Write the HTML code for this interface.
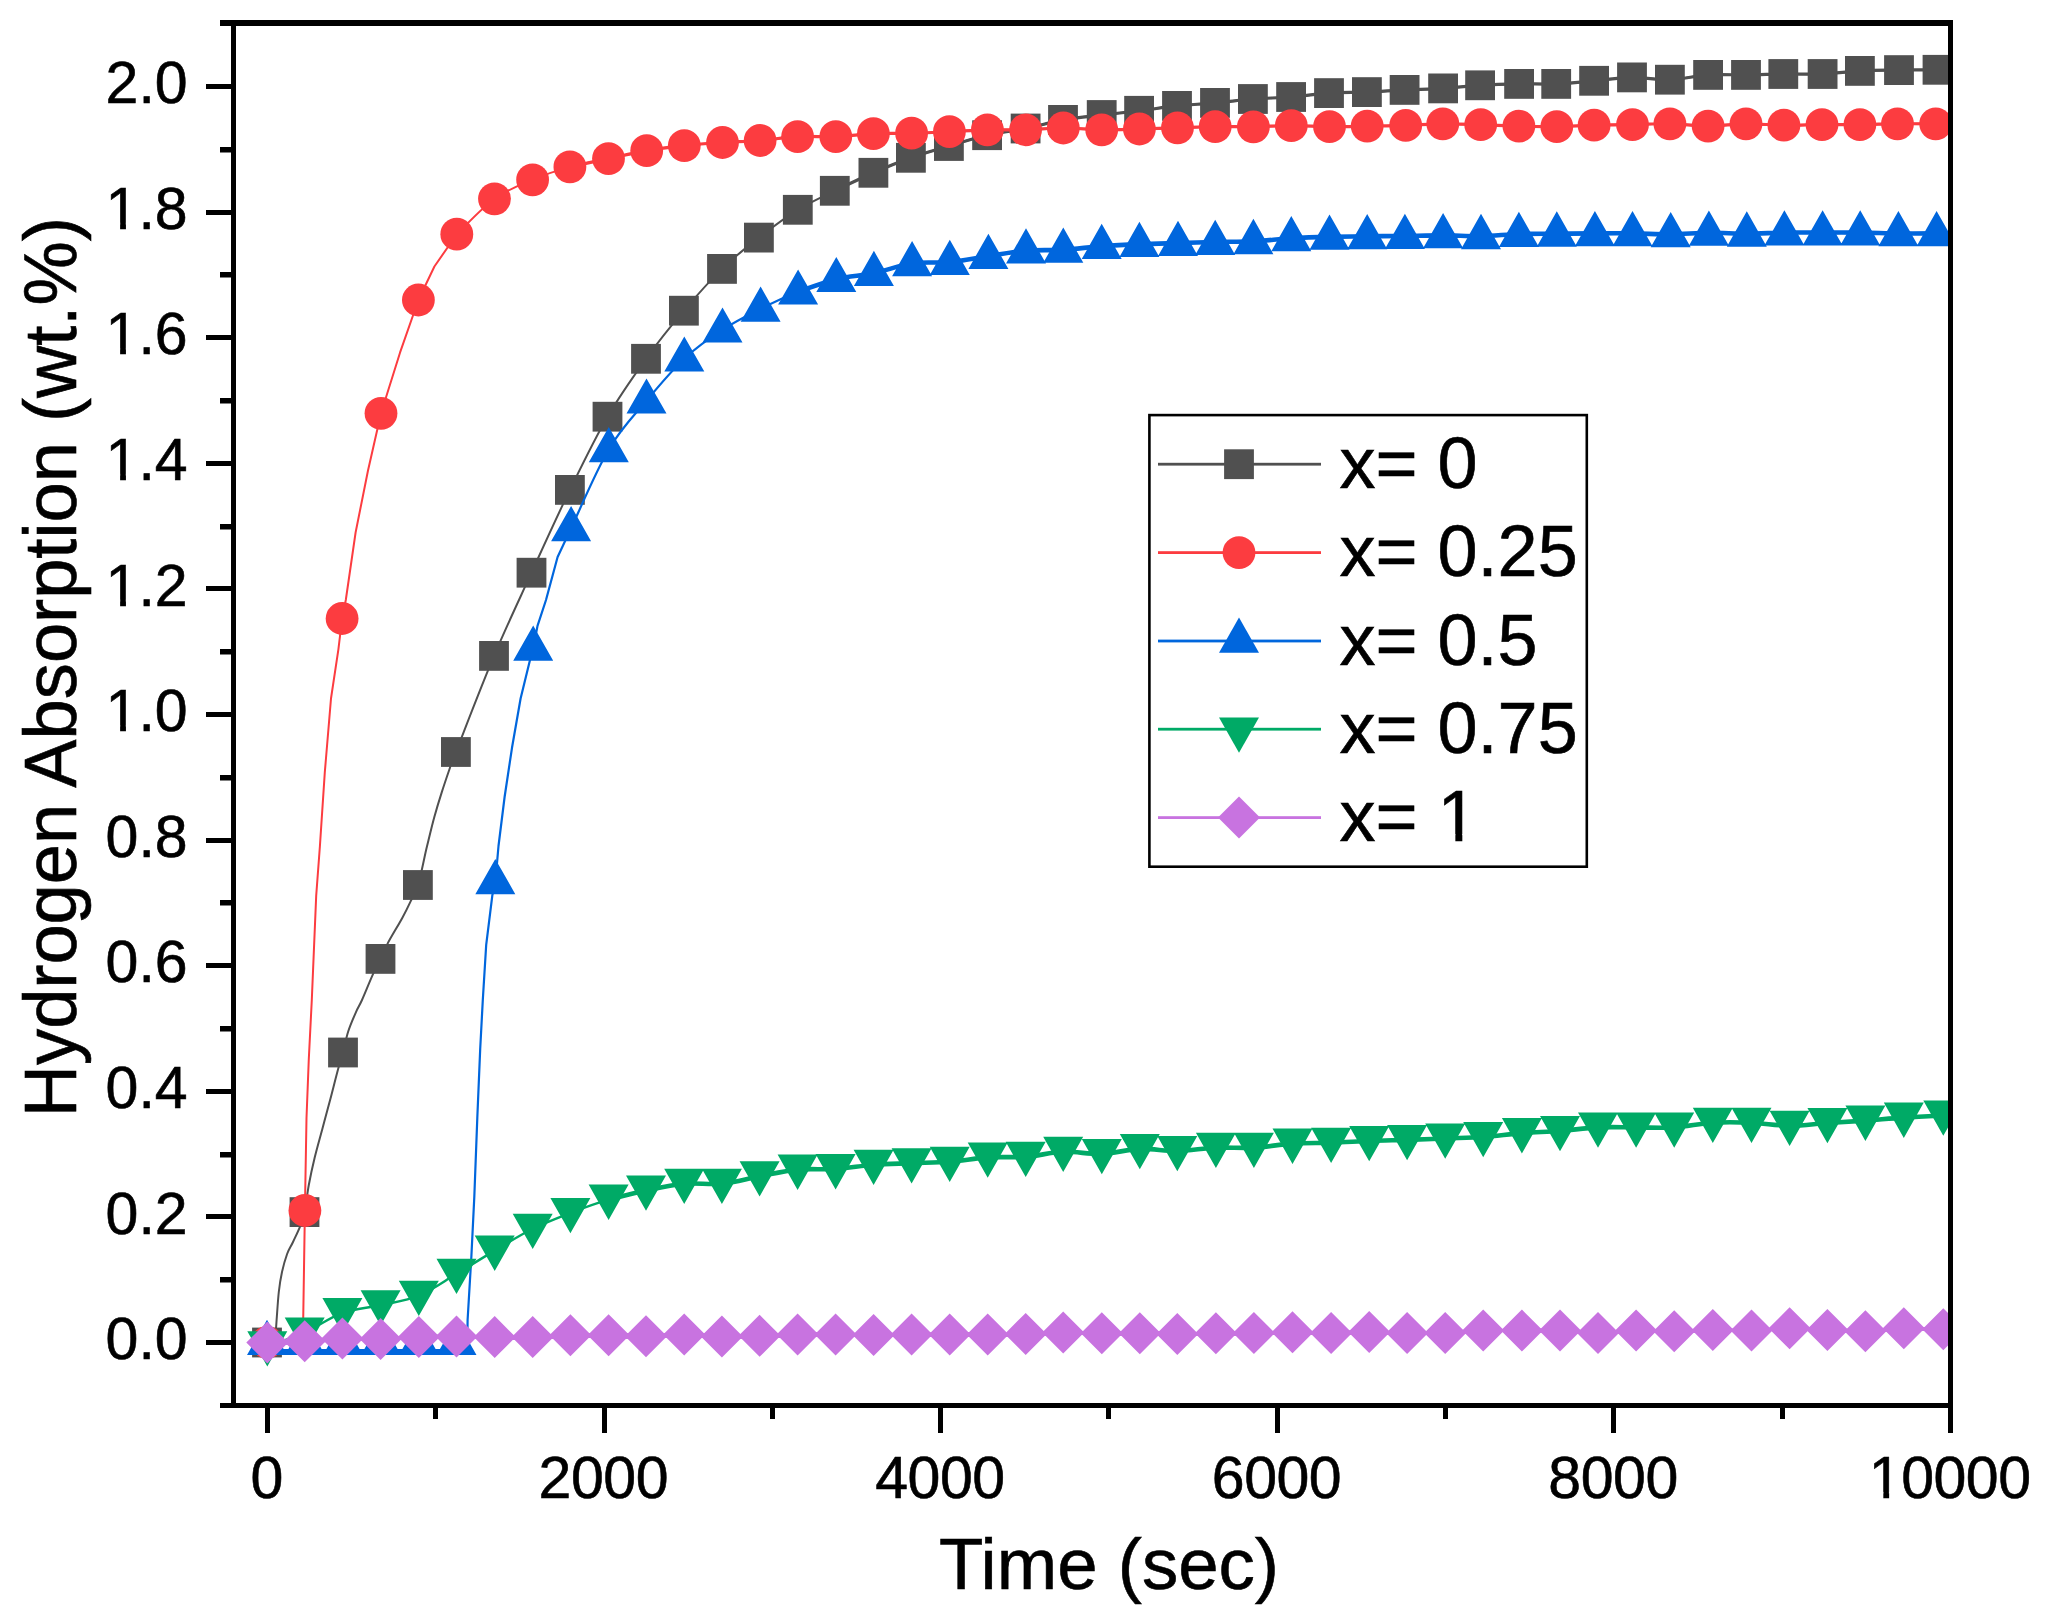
<!DOCTYPE html>
<html lang="en">
<head>
<meta charset="utf-8">
<title>Hydrogen Absorption vs Time</title>
<style>
html,body{margin:0;padding:0;background:#fff;}
body{width:2051px;height:1624px;overflow:hidden;}
svg{display:block;}
text{font-family:"Liberation Sans",Arial,sans-serif;font-size:59px;fill:#000;stroke:#000;stroke-width:0.6px;}
text.big{font-size:72px;}
text.ttl{font-size:72.6px;}
text.ytl{font-size:72.3px;}
text.xl{letter-spacing:-0.45px;}
.ln{fill:none;stroke-linejoin:round;stroke-linecap:butt;}
</style>
</head>
<body>
<svg width="2051" height="1624" viewBox="0 0 2051 1624">
<rect x="0" y="0" width="2051" height="1624" fill="#fff"/>
<defs><clipPath id="plot"><rect x="236" y="26" width="1712" height="1377"/></clipPath></defs>
<g clip-path="url(#plot)">
<g fill="#505050"><path class="ln" stroke="#505050" stroke-width="2" d="M267 1342.5L274.6 1342.3L275.8 1332L276.6 1320C277 1315.3 277.9 1300 278.8 1292C279.7 1284 280.6 1278.3 282 1272C283.4 1265.7 285.3 1259 287.1 1254C288.9 1249 290.9 1246.6 293 1242C295.1 1237.4 298.1 1231.6 300 1226.6C301.9 1221.6 303 1219 304.5 1212.1C306 1205.2 307.1 1194.1 308.8 1185C310.5 1175.9 312.4 1167.1 314.7 1157.6C317 1148.1 320 1137.8 322.6 1128C325.2 1118.2 327.9 1108.5 330.5 1098.5C333.1 1088.5 336.3 1075.7 338.4 1068C340.5 1060.3 341.4 1058.6 343 1052.5C344.6 1046.4 346 1038.3 348.2 1031.5C350.4 1024.7 353.8 1017 356.1 1011.8C358.4 1006.5 359.2 1006.2 362 1000C364.8 993.8 369.8 981.2 372.9 974.4C376 967.5 378.1 964 380.5 958.9C382.9 953.8 384 950.5 387.6 943.6C391.2 936.7 398.5 924.9 402.4 917.7C406.3 910.5 408.4 906 411 900.5C413.6 895 416 890.3 417.9 885C419.8 879.7 420.6 875 422.1 868.5C423.6 862 424.9 854.9 427 846.3C429.1 837.7 431.9 825.7 434.4 816.7C436.9 807.7 439.3 799.9 441.8 792.1C444.3 784.3 446.9 776.7 449.2 770C451.5 763.3 448.4 771 455.9 752C463.4 733 481.4 685.8 494 655.9C506.6 626 518.9 600.4 531.5 572.7C544.1 545 557.2 515.9 569.9 489.9C582.6 463.9 594.8 438.5 607.5 416.7C620.2 394.9 633.3 376.5 646 358.8C658.7 341.1 671.2 325.7 683.9 310.7C696.6 295.7 709.5 281.1 722 268.9C734.5 256.7 746.3 247.4 758.9 237.6C771.5 227.8 785.1 217.6 797.8 209.8C810.4 202 822.2 197 834.8 190.8C847.4 184.6 860.7 178.3 873.4 172.8C886.1 167.3 898.3 162.3 910.9 157.8C923.5 153.3 936.2 149.8 948.9 146C961.6 142.2 974.3 138.1 987.1 135.2C999.9 132.3 1012.9 131.1 1025.6 128.5C1038.2 126 1050.3 122.2 1063 119.9C1075.7 117.7 1089 116.5 1101.7 115C1114.4 113.5 1126.5 112.3 1139.1 110.8C1151.6 109.3 1164.3 107.2 1177 105.9C1189.7 104.6 1202.3 104.1 1215 102.9C1227.7 101.8 1240.2 100 1252.9 99C1265.6 98 1278.4 98 1291.1 97C1303.8 96 1316.4 93.9 1329 93.1C1341.6 92.3 1354.3 92.6 1366.9 92.1C1379.5 91.6 1391.9 90.5 1404.6 89.9C1417.3 89.3 1430.5 89.2 1443.1 88.4C1455.7 87.6 1467.4 86 1480.1 85.3C1492.8 84.5 1506.4 84.1 1519.1 83.9C1531.8 83.7 1543.7 84.4 1556.2 83.9C1568.7 83.4 1581.5 81.9 1594.1 80.8C1606.7 79.7 1619.4 77.6 1632 77.4C1644.6 77.2 1657.2 80.1 1669.9 79.7C1682.6 79.3 1695.4 75.7 1708.1 74.9C1720.8 74.1 1733.5 75.1 1746 74.9C1758.5 74.8 1770.5 74.2 1783.3 74C1796.1 73.8 1809.8 74.5 1822.6 74C1835.4 73.5 1847.2 71.6 1859.9 70.9C1872.6 70.2 1886.1 70.3 1899 70.1C1911.9 69.9 1931.1 69.8 1937.5 69.8"/><path class="ln" stroke="#505050" stroke-width="3.2" d="M834.8 190.8C841.2 187.8 860.7 178.3 873.4 172.8C886.1 167.3 898.3 162.3 910.9 157.8C923.5 153.3 936.2 149.8 948.9 146C961.6 142.2 974.3 138.1 987.1 135.2C999.9 132.3 1012.9 131.1 1025.6 128.5C1038.2 126 1050.3 122.2 1063 119.9C1075.7 117.7 1089 116.5 1101.7 115C1114.4 113.5 1126.5 112.3 1139.1 110.8C1151.6 109.3 1164.3 107.2 1177 105.9C1189.7 104.6 1202.3 104.1 1215 102.9C1227.7 101.8 1240.2 100 1252.9 99C1265.6 98 1278.4 98 1291.1 97C1303.8 96 1316.4 93.9 1329 93.1C1341.6 92.3 1354.3 92.6 1366.9 92.1C1379.5 91.6 1391.9 90.5 1404.6 89.9C1417.3 89.3 1430.5 89.2 1443.1 88.4C1455.7 87.6 1467.4 86 1480.1 85.3C1492.8 84.5 1506.4 84.1 1519.1 83.9C1531.8 83.7 1543.7 84.4 1556.2 83.9C1568.7 83.4 1581.5 81.9 1594.1 80.8C1606.7 79.7 1619.4 77.6 1632 77.4C1644.6 77.2 1657.2 80.1 1669.9 79.7C1682.6 79.3 1695.4 75.7 1708.1 74.9C1720.8 74.1 1733.5 75.1 1746 74.9C1758.5 74.8 1770.5 74.2 1783.3 74C1796.1 73.8 1809.8 74.5 1822.6 74C1835.4 73.5 1847.2 71.6 1859.9 70.9C1872.6 70.2 1886.1 70.3 1899 70.1C1911.9 69.9 1931.1 69.8 1937.5 69.8"/><rect x="252.1" y="1327.6" width="29.8" height="29.8"/><rect x="289.6" y="1197.2" width="29.8" height="29.8"/><rect x="328.1" y="1037.6" width="29.8" height="29.8"/><rect x="365.6" y="944" width="29.8" height="29.8"/><rect x="403" y="870.1" width="29.8" height="29.8"/><rect x="441" y="737.1" width="29.8" height="29.8"/><rect x="479.1" y="641" width="29.8" height="29.8"/><rect x="516.6" y="557.8" width="29.8" height="29.8"/><rect x="555" y="475" width="29.8" height="29.8"/><rect x="592.6" y="401.8" width="29.8" height="29.8"/><rect x="631.1" y="343.9" width="29.8" height="29.8"/><rect x="669" y="295.8" width="29.8" height="29.8"/><rect x="707.1" y="254" width="29.8" height="29.8"/><rect x="744" y="222.7" width="29.8" height="29.8"/><rect x="782.9" y="194.9" width="29.8" height="29.8"/><rect x="819.9" y="175.9" width="29.8" height="29.8"/><rect x="858.5" y="157.9" width="29.8" height="29.8"/><rect x="896" y="142.9" width="29.8" height="29.8"/><rect x="934" y="131.1" width="29.8" height="29.8"/><rect x="972.2" y="120.3" width="29.8" height="29.8"/><rect x="1010.7" y="113.6" width="29.8" height="29.8"/><rect x="1048.1" y="105" width="29.8" height="29.8"/><rect x="1086.8" y="100.1" width="29.8" height="29.8"/><rect x="1124.2" y="95.9" width="29.8" height="29.8"/><rect x="1162.1" y="91" width="29.8" height="29.8"/><rect x="1200.1" y="88" width="29.8" height="29.8"/><rect x="1238" y="84.1" width="29.8" height="29.8"/><rect x="1276.2" y="82.1" width="29.8" height="29.8"/><rect x="1314.1" y="78.2" width="29.8" height="29.8"/><rect x="1352" y="77.2" width="29.8" height="29.8"/><rect x="1389.7" y="75" width="29.8" height="29.8"/><rect x="1428.2" y="73.5" width="29.8" height="29.8"/><rect x="1465.2" y="70.4" width="29.8" height="29.8"/><rect x="1504.2" y="69" width="29.8" height="29.8"/><rect x="1541.3" y="69" width="29.8" height="29.8"/><rect x="1579.2" y="65.9" width="29.8" height="29.8"/><rect x="1617.1" y="62.5" width="29.8" height="29.8"/><rect x="1655" y="64.8" width="29.8" height="29.8"/><rect x="1693.2" y="60" width="29.8" height="29.8"/><rect x="1731.1" y="60" width="29.8" height="29.8"/><rect x="1768.4" y="59.1" width="29.8" height="29.8"/><rect x="1807.7" y="59.1" width="29.8" height="29.8"/><rect x="1845" y="56" width="29.8" height="29.8"/><rect x="1884.1" y="55.2" width="29.8" height="29.8"/><rect x="1922.6" y="54.9" width="29.8" height="29.8"/></g>
<g fill="#fc3c40"><path class="ln" stroke="#fc3c40" stroke-width="2" d="M267 1342.5L302.9 1342.5L303.2 1320L304.9 1210.5L306.5 1118L308.8 1059L311.8 1000L316.2 895.6L319.9 846.3L324.8 772.4L331 698.5L338.4 649.3L342.1 618.5L345.8 600L355.6 532.5L367.9 471L381 413.3L400 352.7L418.4 300L434.4 266.5L456.8 234.2C463.1 228.3 481.9 207.9 494.5 198.8C507.1 189.7 520 185.1 532.6 179.8C545.2 174.5 557.2 170.4 569.9 166.9C582.5 163.4 595.7 161.3 608.5 158.6C621.3 155.9 634.1 152.9 646.7 150.7C659.3 148.5 671.7 147 684.3 145.6C696.9 144.2 709.9 143.3 722.5 142.5C735.1 141.7 747.6 141.5 760.1 140.5C772.6 139.5 785 137.2 797.6 136.6C810.2 135.9 823.2 137.1 835.8 136.6C848.4 136.1 860.8 134.2 873.4 133.6C886 133 898.9 133.5 911.6 133.2C924.3 132.9 936.8 132.3 949.4 131.7C962 131.1 974.7 130.1 987.4 129.8C1000.1 129.5 1012.9 130.1 1025.6 129.8C1038.2 129.5 1050.6 128 1063.3 128C1076 128 1089 129.6 1101.7 129.8C1114.4 130 1126.8 129.3 1139.4 129C1152 128.7 1164.9 128.2 1177.5 127.8C1190.1 127.4 1202.5 126.8 1215.2 126.6C1227.9 126.4 1240.7 127 1253.4 126.8C1266.1 126.6 1278.6 125.6 1291.3 125.6C1304 125.6 1316.8 126.5 1329.5 126.6C1342.2 126.7 1354.5 126.3 1367.2 126.1C1379.9 125.9 1393.1 125.8 1405.7 125.4C1418.3 125 1430.3 123.9 1442.8 123.8C1455.3 123.7 1468 124.2 1480.7 124.6C1493.4 125 1506.2 125.8 1518.9 126.1C1531.6 126.4 1544.3 126.8 1556.8 126.6C1569.3 126.4 1581.5 125.5 1594.1 125.2C1606.7 124.9 1619.9 124.8 1632.5 124.6C1645.1 124.4 1657.3 123.5 1669.9 123.8C1682.5 124 1695.4 126.1 1708.1 126.1C1720.8 126.1 1733.4 123.9 1746 123.8C1758.6 123.7 1771.2 125.1 1783.9 125.2C1796.6 125.3 1809.3 124.7 1822 124.6C1834.7 124.5 1847.3 124.7 1859.9 124.6C1872.5 124.5 1884.9 123.9 1897.5 123.8C1910.1 123.7 1929.3 123.8 1935.7 123.8"/><path class="ln" stroke="#fc3c40" stroke-width="3.2" d="M569.9 166.9C576.3 165.5 595.7 161.3 608.5 158.6C621.3 155.9 634.1 152.9 646.7 150.7C659.3 148.5 671.7 147 684.3 145.6C696.9 144.2 709.9 143.3 722.5 142.5C735.1 141.7 747.6 141.5 760.1 140.5C772.6 139.5 785 137.2 797.6 136.6C810.2 135.9 823.2 137.1 835.8 136.6C848.4 136.1 860.8 134.2 873.4 133.6C886 133 898.9 133.5 911.6 133.2C924.3 132.9 936.8 132.3 949.4 131.7C962 131.1 974.7 130.1 987.4 129.8C1000.1 129.5 1012.9 130.1 1025.6 129.8C1038.2 129.5 1050.6 128 1063.3 128C1076 128 1089 129.6 1101.7 129.8C1114.4 130 1126.8 129.3 1139.4 129C1152 128.7 1164.9 128.2 1177.5 127.8C1190.1 127.4 1202.5 126.8 1215.2 126.6C1227.9 126.4 1240.7 127 1253.4 126.8C1266.1 126.6 1278.6 125.6 1291.3 125.6C1304 125.6 1316.8 126.5 1329.5 126.6C1342.2 126.7 1354.5 126.3 1367.2 126.1C1379.9 125.9 1393.1 125.8 1405.7 125.4C1418.3 125 1430.3 123.9 1442.8 123.8C1455.3 123.7 1468 124.2 1480.7 124.6C1493.4 125 1506.2 125.8 1518.9 126.1C1531.6 126.4 1544.3 126.8 1556.8 126.6C1569.3 126.4 1581.5 125.5 1594.1 125.2C1606.7 124.9 1619.9 124.8 1632.5 124.6C1645.1 124.4 1657.3 123.5 1669.9 123.8C1682.5 124 1695.4 126.1 1708.1 126.1C1720.8 126.1 1733.4 123.9 1746 123.8C1758.6 123.7 1771.2 125.1 1783.9 125.2C1796.6 125.3 1809.3 124.7 1822 124.6C1834.7 124.5 1847.3 124.7 1859.9 124.6C1872.5 124.5 1884.9 123.9 1897.5 123.8C1910.1 123.7 1929.3 123.8 1935.7 123.8"/><circle cx="267" cy="1342.5" r="16.4"/><circle cx="304.9" cy="1210.5" r="16.4"/><circle cx="342.1" cy="618.5" r="16.4"/><circle cx="381" cy="413.3" r="16.4"/><circle cx="418.4" cy="300" r="16.4"/><circle cx="456.8" cy="234.2" r="16.4"/><circle cx="494.5" cy="198.8" r="16.4"/><circle cx="532.6" cy="179.8" r="16.4"/><circle cx="569.9" cy="166.9" r="16.4"/><circle cx="608.5" cy="158.6" r="16.4"/><circle cx="646.7" cy="150.7" r="16.4"/><circle cx="684.3" cy="145.6" r="16.4"/><circle cx="722.5" cy="142.5" r="16.4"/><circle cx="760.1" cy="140.5" r="16.4"/><circle cx="797.6" cy="136.6" r="16.4"/><circle cx="835.8" cy="136.6" r="16.4"/><circle cx="873.4" cy="133.6" r="16.4"/><circle cx="911.6" cy="133.2" r="16.4"/><circle cx="949.4" cy="131.7" r="16.4"/><circle cx="987.4" cy="129.8" r="16.4"/><circle cx="1025.6" cy="129.8" r="16.4"/><circle cx="1063.3" cy="128" r="16.4"/><circle cx="1101.7" cy="129.8" r="16.4"/><circle cx="1139.4" cy="129" r="16.4"/><circle cx="1177.5" cy="127.8" r="16.4"/><circle cx="1215.2" cy="126.6" r="16.4"/><circle cx="1253.4" cy="126.8" r="16.4"/><circle cx="1291.3" cy="125.6" r="16.4"/><circle cx="1329.5" cy="126.6" r="16.4"/><circle cx="1367.2" cy="126.1" r="16.4"/><circle cx="1405.7" cy="125.4" r="16.4"/><circle cx="1442.8" cy="123.8" r="16.4"/><circle cx="1480.7" cy="124.6" r="16.4"/><circle cx="1518.9" cy="126.1" r="16.4"/><circle cx="1556.8" cy="126.6" r="16.4"/><circle cx="1594.1" cy="125.2" r="16.4"/><circle cx="1632.5" cy="124.6" r="16.4"/><circle cx="1669.9" cy="123.8" r="16.4"/><circle cx="1708.1" cy="126.1" r="16.4"/><circle cx="1746" cy="123.8" r="16.4"/><circle cx="1783.9" cy="125.2" r="16.4"/><circle cx="1822" cy="124.6" r="16.4"/><circle cx="1859.9" cy="124.6" r="16.4"/><circle cx="1897.5" cy="123.8" r="16.4"/><circle cx="1935.7" cy="123.8" r="16.4"/></g>
<g fill="#0066dd"><path class="ln" stroke="#0066dd" stroke-width="4" d="M267 1351L468.6 1351"/><path class="ln" stroke="#0066dd" stroke-width="2.2" d="M467.2 1351L467.6 1320L471.4 1256L474.3 1197L477.3 1118L480.2 1049L482.8 1000L486.2 944.8L492.3 895.6L495.3 882.4L498.5 846L504.6 797L512 747.8L520.6 698.5L530 660L533.2 648.9L537.5 625.9L546 600L557.6 557L571.1 528.3C577.4 515.1 596.2 470.6 608.8 449.3C621.4 428 633.9 415.8 646.5 400.7C659.1 385.6 671.6 370.5 684.3 358.7C697 346.9 709.8 338 722.5 329.7C735.2 321.4 748 315.1 760.6 308.8C773.2 302.5 785.5 296.6 798.1 291.7C810.7 286.8 823.7 282.3 836.3 279.2C848.9 276.1 861.3 275.8 873.9 273.2C886.5 270.6 899.5 265.2 912.1 263.3C924.8 261.4 937.1 263.3 949.8 262.1C962.5 260.9 975.7 257.9 988.4 256C1001.1 254.1 1013.5 251.6 1026 250.6C1038.5 249.6 1050.7 250.5 1063.3 249.8C1075.9 249.1 1089 247.1 1101.7 246.2C1114.4 245.2 1126.7 244.6 1139.4 244.1C1152.1 243.6 1165.4 243.4 1178 243.1C1190.6 242.8 1202.6 242.3 1215.2 242C1227.8 241.7 1240.7 241.8 1253.4 241.2C1266.1 240.6 1278.6 239 1291.3 238.3C1304 237.6 1316.8 237.2 1329.5 236.9C1342.2 236.6 1354.6 236.4 1367.2 236.3C1379.8 236.1 1392.2 236.2 1404.9 236C1417.6 235.8 1430.4 235.4 1443.1 235.4C1455.8 235.4 1468.4 236.4 1481 236.2C1493.6 236 1506.3 234.4 1518.9 234C1531.5 233.6 1544.1 233.8 1556.8 233.7C1569.5 233.6 1582.3 233.4 1594.9 233.4C1607.5 233.3 1619.9 233.2 1632.5 233.4C1645.1 233.5 1658 234.4 1670.7 234.3C1683.4 234.2 1696.2 232.9 1708.9 232.8C1721.6 232.7 1734.2 233.7 1746.8 233.7C1759.4 233.7 1771.8 232.8 1784.4 232.6C1797 232.4 1810 232.6 1822.6 232.6C1835.2 232.6 1847.6 232.5 1860.2 232.6C1872.8 232.7 1885.7 233.3 1898.4 233.4C1911.1 233.5 1930.2 233.4 1936.6 233.4"/><path class="ln" stroke="#0066dd" stroke-width="4.6" d="M798.1 291.7C804.5 289.6 823.7 282.3 836.3 279.2C848.9 276.1 861.3 275.8 873.9 273.2C886.5 270.6 899.5 265.2 912.1 263.3C924.8 261.4 937.1 263.3 949.8 262.1C962.5 260.9 975.7 257.9 988.4 256C1001.1 254.1 1013.5 251.6 1026 250.6C1038.5 249.6 1050.7 250.5 1063.3 249.8C1075.9 249.1 1089 247.1 1101.7 246.2C1114.4 245.2 1126.7 244.6 1139.4 244.1C1152.1 243.6 1165.4 243.4 1178 243.1C1190.6 242.8 1202.6 242.3 1215.2 242C1227.8 241.7 1240.7 241.8 1253.4 241.2C1266.1 240.6 1278.6 239 1291.3 238.3C1304 237.6 1316.8 237.2 1329.5 236.9C1342.2 236.6 1354.6 236.4 1367.2 236.3C1379.8 236.1 1392.2 236.2 1404.9 236C1417.6 235.8 1430.4 235.4 1443.1 235.4C1455.8 235.4 1468.4 236.4 1481 236.2C1493.6 236 1506.3 234.4 1518.9 234C1531.5 233.6 1544.1 233.8 1556.8 233.7C1569.5 233.6 1582.3 233.4 1594.9 233.4C1607.5 233.3 1619.9 233.2 1632.5 233.4C1645.1 233.5 1658 234.4 1670.7 234.3C1683.4 234.2 1696.2 232.9 1708.9 232.8C1721.6 232.7 1734.2 233.7 1746.8 233.7C1759.4 233.7 1771.8 232.8 1784.4 232.6C1797 232.4 1810 232.6 1822.6 232.6C1835.2 232.6 1847.6 232.5 1860.2 232.6C1872.8 232.7 1885.7 233.3 1898.4 233.4C1911.1 233.5 1930.2 233.4 1936.6 233.4"/><path d="M267 1319.8L287 1355.1L247 1355.1ZM305 1319.8L325 1355.1L285 1355.1ZM343 1319.8L363 1355.1L323 1355.1ZM381 1319.8L401 1355.1L361 1355.1ZM419 1319.8L439 1355.1L399 1355.1ZM456.5 1319.8L476.5 1355.1L436.5 1355.1ZM495.3 859L515.3 894.2L475.3 894.2ZM533.2 625.5L553.2 660.8L513.2 660.8ZM571.1 506L591.1 541.2L551.1 541.2ZM608.8 427L628.8 462.2L588.8 462.2ZM646.5 378.4L666.5 413.6L626.5 413.6ZM684.3 336.4L704.3 371.6L664.3 371.6ZM722.5 307.4L742.5 342.6L702.5 342.6ZM760.6 286.5L780.6 321.8L740.6 321.8ZM798.1 269.4L818.1 304.6L778.1 304.6ZM836.3 256.9L856.3 292.1L816.3 292.1ZM873.9 250.8L893.9 286.1L853.9 286.1ZM912.1 241L932.1 276.2L892.1 276.2ZM949.8 239.7L969.8 275L929.8 275ZM988.4 233.7L1008.4 268.9L968.4 268.9ZM1026 228.2L1046 263.6L1006 263.6ZM1063.3 227.4L1083.3 262.8L1043.3 262.8ZM1101.7 223.8L1121.7 259.1L1081.7 259.1ZM1139.4 221.8L1159.4 257.1L1119.4 257.1ZM1178 220.8L1198 256.1L1158 256.1ZM1215.2 219.7L1235.2 255L1195.2 255ZM1253.4 218.8L1273.4 254.2L1233.4 254.2ZM1291.3 215.9L1311.3 251.2L1271.3 251.2ZM1329.5 214.5L1349.5 249.8L1309.5 249.8ZM1367.2 213.9L1387.2 249.2L1347.2 249.2ZM1404.9 213.7L1424.9 249L1384.9 249ZM1443.1 213L1463.1 248.3L1423.1 248.3ZM1481 213.8L1501 249.2L1461 249.2ZM1518.9 211.7L1538.9 247L1498.9 247ZM1556.8 211.3L1576.8 246.7L1536.8 246.7ZM1594.9 211L1614.9 246.3L1574.9 246.3ZM1632.5 211L1652.5 246.3L1612.5 246.3ZM1670.7 211.9L1690.7 247.2L1650.7 247.2ZM1708.9 210.4L1728.9 245.8L1688.9 245.8ZM1746.8 211.3L1766.8 246.7L1726.8 246.7ZM1784.4 210.2L1804.4 245.6L1764.4 245.6ZM1822.6 210.2L1842.6 245.6L1802.6 245.6ZM1860.2 210.2L1880.2 245.6L1840.2 245.6ZM1898.4 211L1918.4 246.3L1878.4 246.3ZM1936.6 211L1956.6 246.3L1916.6 246.3Z"/></g>
<g fill="#00aa66"><path class="ln" stroke="#00aa66" stroke-width="2.4" d="M267.3 1346.2C273.5 1343.9 292.2 1338 304.7 1332.5C317.2 1327 329.8 1317.5 342.4 1312.9C355 1308.4 367.9 1308.1 380.6 1305.2C393.3 1302.3 406.2 1300.9 418.8 1295.7C431.4 1290.5 443.9 1281.3 456.5 1273.8C469.1 1266.3 482 1258.1 494.7 1250.6C507.4 1243.1 520.1 1235.1 532.7 1228.8C545.3 1222.5 557.8 1217.8 570.4 1212.9C583 1208 596 1203.3 608.6 1199.6C621.2 1195.9 633.4 1193.2 646 1190.5C658.6 1187.8 671.6 1184.8 684.2 1183.7C696.9 1182.6 709.3 1184.9 721.9 1183.7C734.5 1182.5 747 1178.7 759.6 1176.3C772.2 1173.9 784.9 1170.8 797.6 1169.6C810.3 1168.4 822.9 1169.9 835.6 1169.1C848.3 1168.3 860.9 1165.7 873.6 1164.7C886.3 1163.7 898.9 1163.7 911.6 1163.2C924.3 1162.7 937 1162.8 949.7 1161.8C962.4 1160.8 975 1158.2 987.7 1157.4C1000.4 1156.6 1013.1 1157.7 1025.7 1156.8C1038.3 1155.9 1050.5 1152.3 1063.2 1151.8C1075.9 1151.3 1089 1154.4 1101.8 1153.9C1114.6 1153.4 1127.2 1149.4 1139.8 1148.9C1152.4 1148.4 1164.6 1151.2 1177.3 1151C1190 1150.8 1203.1 1148.2 1215.9 1147.7C1228.7 1147.2 1241.1 1148.4 1253.9 1147.7C1266.7 1147 1279.6 1144.4 1292.5 1143.6C1305.4 1142.8 1318.3 1143.2 1331.1 1142.8C1343.9 1142.4 1356.5 1141.5 1369.2 1141C1381.9 1140.5 1394.4 1140.3 1407.1 1139.9C1419.8 1139.5 1432.5 1138.9 1445.2 1138.4C1457.9 1137.9 1470.4 1137.9 1483.2 1137C1496 1136.1 1509.1 1134.1 1521.9 1133.1C1534.7 1132.1 1547.3 1132 1560 1131C1572.7 1130 1585.3 1128 1598 1127.4C1610.7 1126.8 1623.4 1127.4 1636.1 1127.4C1648.8 1127.4 1661.4 1128.2 1674.2 1127.4C1687 1126.6 1699.9 1123.5 1712.8 1122.7C1725.7 1121.9 1738.7 1122.2 1751.5 1122.7C1764.3 1123.2 1776.9 1125.7 1789.6 1125.7C1802.2 1125.8 1814.8 1123.8 1827.4 1123C1840 1122.2 1852.7 1121.5 1865.4 1120.6C1878.1 1119.7 1890.8 1118.4 1903.8 1117.6C1916.8 1116.8 1936.7 1115.8 1943.3 1115.5"/><path class="ln" stroke="#00aa66" stroke-width="4.6" d="M608.6 1199.6C614.8 1198.1 633.4 1193.2 646 1190.5C658.6 1187.8 671.6 1184.8 684.2 1183.7C696.9 1182.6 709.3 1184.9 721.9 1183.7C734.5 1182.5 747 1178.7 759.6 1176.3C772.2 1173.9 784.9 1170.8 797.6 1169.6C810.3 1168.4 822.9 1169.9 835.6 1169.1C848.3 1168.3 860.9 1165.7 873.6 1164.7C886.3 1163.7 898.9 1163.7 911.6 1163.2C924.3 1162.7 937 1162.8 949.7 1161.8C962.4 1160.8 975 1158.2 987.7 1157.4C1000.4 1156.6 1013.1 1157.7 1025.7 1156.8C1038.3 1155.9 1050.5 1152.3 1063.2 1151.8C1075.9 1151.3 1089 1154.4 1101.8 1153.9C1114.6 1153.4 1127.2 1149.4 1139.8 1148.9C1152.4 1148.4 1164.6 1151.2 1177.3 1151C1190 1150.8 1203.1 1148.2 1215.9 1147.7C1228.7 1147.2 1241.1 1148.4 1253.9 1147.7C1266.7 1147 1279.6 1144.4 1292.5 1143.6C1305.4 1142.8 1318.3 1143.2 1331.1 1142.8C1343.9 1142.4 1356.5 1141.5 1369.2 1141C1381.9 1140.5 1394.4 1140.3 1407.1 1139.9C1419.8 1139.5 1432.5 1138.9 1445.2 1138.4C1457.9 1137.9 1470.4 1137.9 1483.2 1137C1496 1136.1 1509.1 1134.1 1521.9 1133.1C1534.7 1132.1 1547.3 1132 1560 1131C1572.7 1130 1585.3 1128 1598 1127.4C1610.7 1126.8 1623.4 1127.4 1636.1 1127.4C1648.8 1127.4 1661.4 1128.2 1674.2 1127.4C1687 1126.6 1699.9 1123.5 1712.8 1122.7C1725.7 1121.9 1738.7 1122.2 1751.5 1122.7C1764.3 1123.2 1776.9 1125.7 1789.6 1125.7C1802.2 1125.8 1814.8 1123.8 1827.4 1123C1840 1122.2 1852.7 1121.5 1865.4 1120.6C1878.1 1119.7 1890.8 1118.4 1903.8 1117.6C1916.8 1116.8 1936.7 1115.8 1943.3 1115.5"/><path d="M247.3 1331.2L287.3 1331.2L267.3 1366.5ZM284.7 1317.5L324.7 1317.5L304.7 1352.8ZM322.4 1297.9L362.4 1297.9L342.4 1333.2ZM360.6 1290.2L400.6 1290.2L380.6 1325.5ZM398.8 1280.7L438.8 1280.7L418.8 1316ZM436.5 1258.8L476.5 1258.8L456.5 1294.1ZM474.7 1235.6L514.7 1235.6L494.7 1270.9ZM512.7 1213.8L552.7 1213.8L532.7 1249.1ZM550.4 1197.9L590.4 1197.9L570.4 1233.2ZM588.6 1184.6L628.6 1184.6L608.6 1219.9ZM626 1175.5L666 1175.5L646 1210.8ZM664.2 1168.7L704.2 1168.7L684.2 1204ZM701.9 1168.7L741.9 1168.7L721.9 1204ZM739.6 1161.3L779.6 1161.3L759.6 1196.6ZM777.6 1154.6L817.6 1154.6L797.6 1189.9ZM815.6 1154.1L855.6 1154.1L835.6 1189.4ZM853.6 1149.7L893.6 1149.7L873.6 1185ZM891.6 1148.2L931.6 1148.2L911.6 1183.5ZM929.7 1146.8L969.7 1146.8L949.7 1182.1ZM967.7 1142.4L1007.7 1142.4L987.7 1177.7ZM1005.7 1141.8L1045.7 1141.8L1025.7 1177.1ZM1043.2 1136.8L1083.2 1136.8L1063.2 1172.1ZM1081.8 1138.9L1121.8 1138.9L1101.8 1174.2ZM1119.8 1133.9L1159.8 1133.9L1139.8 1169.2ZM1157.3 1136L1197.3 1136L1177.3 1171.3ZM1195.9 1132.7L1235.9 1132.7L1215.9 1168ZM1233.9 1132.7L1273.9 1132.7L1253.9 1168ZM1272.5 1128.6L1312.5 1128.6L1292.5 1163.9ZM1311.1 1127.8L1351.1 1127.8L1331.1 1163.1ZM1349.2 1126L1389.2 1126L1369.2 1161.3ZM1387.1 1124.9L1427.1 1124.9L1407.1 1160.2ZM1425.2 1123.4L1465.2 1123.4L1445.2 1158.7ZM1463.2 1122L1503.2 1122L1483.2 1157.3ZM1501.9 1118.1L1541.9 1118.1L1521.9 1153.4ZM1540 1116L1580 1116L1560 1151.3ZM1578 1112.4L1618 1112.4L1598 1147.7ZM1616.1 1112.4L1656.1 1112.4L1636.1 1147.7ZM1654.2 1112.4L1694.2 1112.4L1674.2 1147.7ZM1692.8 1107.7L1732.8 1107.7L1712.8 1143ZM1731.5 1107.7L1771.5 1107.7L1751.5 1143ZM1769.6 1110.7L1809.6 1110.7L1789.6 1146ZM1807.4 1108L1847.4 1108L1827.4 1143.3ZM1845.4 1105.6L1885.4 1105.6L1865.4 1140.9ZM1883.8 1102.6L1923.8 1102.6L1903.8 1137.9ZM1923.3 1100.5L1963.3 1100.5L1943.3 1135.8Z"/></g>
<g fill="#c873e0"><path class="ln" stroke="#c873e0" stroke-width="2.2" d="M267.3 1342.6C273.5 1342.4 292.2 1341.9 304.7 1341.2C317.2 1340.5 329.8 1338.9 342.4 1338.5C355 1338.1 367.9 1339.2 380.6 1339C393.3 1338.8 406.2 1337.5 418.8 1337.1C431.4 1336.7 443.9 1336.6 456.5 1336.6C469.1 1336.6 482 1337 494.7 1337.1C507.4 1337.2 520.1 1337.4 532.7 1337.1C545.3 1336.8 557.8 1335.5 570.4 1335.2C583 1334.9 596 1335 608.6 1335.2C621.2 1335.4 633.4 1336.4 646 1336.3C658.6 1336.2 671.6 1334.4 684.2 1334.4C696.9 1334.5 709.3 1336.4 721.9 1336.6C734.5 1336.8 747 1336.1 759.6 1335.8C772.2 1335.5 784.9 1334.7 797.6 1334.5C810.3 1334.3 822.9 1334.4 835.6 1334.5C848.3 1334.6 860.9 1335.1 873.6 1335.1C886.3 1335.1 898.9 1334.6 911.6 1334.5C924.3 1334.4 937 1334.5 949.7 1334.5C962.4 1334.5 975 1334.6 987.7 1334.5C1000.4 1334.4 1013.1 1334.2 1025.7 1333.9C1038.3 1333.6 1050.5 1332.6 1063.2 1332.5C1075.9 1332.4 1089 1333.2 1101.8 1333.3C1114.6 1333.4 1127.2 1333.2 1139.8 1333.3C1152.4 1333.4 1164.6 1333.9 1177.3 1333.9C1190 1333.9 1203.1 1333.5 1215.9 1333.3C1228.7 1333.1 1241.1 1333.2 1253.9 1333C1266.7 1332.8 1279.6 1332.2 1292.5 1332.2C1305.4 1332.2 1318.3 1333 1331.1 1333C1343.9 1333 1356.5 1332.1 1369.2 1332.1C1381.9 1332.1 1394.4 1332.8 1407.1 1333C1419.8 1333.2 1432.5 1333.4 1445.2 1333C1457.9 1332.6 1470.4 1331 1483.2 1330.6C1496 1330.2 1509.1 1330.6 1521.9 1330.6C1534.7 1330.6 1547.3 1330.2 1560 1330.6C1572.7 1331 1585.3 1333 1598 1333C1610.7 1333 1623.4 1330.9 1636.1 1330.6C1648.8 1330.3 1661.4 1331.3 1674.2 1331.2C1687 1331.1 1699.9 1330.1 1712.8 1330C1725.7 1329.9 1738.7 1330.9 1751.5 1330.6C1764.3 1330.3 1776.9 1328.4 1789.6 1328.3C1802.2 1328.2 1814.8 1329.5 1827.4 1330C1840 1330.5 1852.7 1331.5 1865.4 1331.2C1878.1 1330.9 1890.8 1328.6 1903.8 1328.3C1916.8 1328 1936.7 1329 1943.3 1329.2"/><path d="M267.3 1321.6L288.3 1342.6L267.3 1363.6L246.3 1342.6ZM304.7 1320.2L325.7 1341.2L304.7 1362.2L283.7 1341.2ZM342.4 1317.5L363.4 1338.5L342.4 1359.5L321.4 1338.5ZM380.6 1318L401.6 1339L380.6 1360L359.6 1339ZM418.8 1316.1L439.8 1337.1L418.8 1358.1L397.8 1337.1ZM456.5 1315.6L477.5 1336.6L456.5 1357.6L435.5 1336.6ZM494.7 1316.1L515.7 1337.1L494.7 1358.1L473.7 1337.1ZM532.7 1316.1L553.7 1337.1L532.7 1358.1L511.7 1337.1ZM570.4 1314.2L591.4 1335.2L570.4 1356.2L549.4 1335.2ZM608.6 1314.2L629.6 1335.2L608.6 1356.2L587.6 1335.2ZM646 1315.3L667 1336.3L646 1357.3L625 1336.3ZM684.2 1313.4L705.2 1334.4L684.2 1355.4L663.2 1334.4ZM721.9 1315.6L742.9 1336.6L721.9 1357.6L700.9 1336.6ZM759.6 1314.8L780.6 1335.8L759.6 1356.8L738.6 1335.8ZM797.6 1313.5L818.6 1334.5L797.6 1355.5L776.6 1334.5ZM835.6 1313.5L856.6 1334.5L835.6 1355.5L814.6 1334.5ZM873.6 1314.1L894.6 1335.1L873.6 1356.1L852.6 1335.1ZM911.6 1313.5L932.6 1334.5L911.6 1355.5L890.6 1334.5ZM949.7 1313.5L970.7 1334.5L949.7 1355.5L928.7 1334.5ZM987.7 1313.5L1008.7 1334.5L987.7 1355.5L966.7 1334.5ZM1025.7 1312.9L1046.7 1333.9L1025.7 1354.9L1004.7 1333.9ZM1063.2 1311.5L1084.2 1332.5L1063.2 1353.5L1042.2 1332.5ZM1101.8 1312.3L1122.8 1333.3L1101.8 1354.3L1080.8 1333.3ZM1139.8 1312.3L1160.8 1333.3L1139.8 1354.3L1118.8 1333.3ZM1177.3 1312.9L1198.3 1333.9L1177.3 1354.9L1156.3 1333.9ZM1215.9 1312.3L1236.9 1333.3L1215.9 1354.3L1194.9 1333.3ZM1253.9 1312L1274.9 1333L1253.9 1354L1232.9 1333ZM1292.5 1311.2L1313.5 1332.2L1292.5 1353.2L1271.5 1332.2ZM1331.1 1312L1352.1 1333L1331.1 1354L1310.1 1333ZM1369.2 1311.1L1390.2 1332.1L1369.2 1353.1L1348.2 1332.1ZM1407.1 1312L1428.1 1333L1407.1 1354L1386.1 1333ZM1445.2 1312L1466.2 1333L1445.2 1354L1424.2 1333ZM1483.2 1309.6L1504.2 1330.6L1483.2 1351.6L1462.2 1330.6ZM1521.9 1309.6L1542.9 1330.6L1521.9 1351.6L1500.9 1330.6ZM1560 1309.6L1581 1330.6L1560 1351.6L1539 1330.6ZM1598 1312L1619 1333L1598 1354L1577 1333ZM1636.1 1309.6L1657.1 1330.6L1636.1 1351.6L1615.1 1330.6ZM1674.2 1310.2L1695.2 1331.2L1674.2 1352.2L1653.2 1331.2ZM1712.8 1309L1733.8 1330L1712.8 1351L1691.8 1330ZM1751.5 1309.6L1772.5 1330.6L1751.5 1351.6L1730.5 1330.6ZM1789.6 1307.3L1810.6 1328.3L1789.6 1349.3L1768.6 1328.3ZM1827.4 1309L1848.4 1330L1827.4 1351L1806.4 1330ZM1865.4 1310.2L1886.4 1331.2L1865.4 1352.2L1844.4 1331.2ZM1903.8 1307.3L1924.8 1328.3L1903.8 1349.3L1882.8 1328.3ZM1943.3 1308.2L1964.3 1329.2L1943.3 1350.2L1922.3 1329.2Z"/></g>
</g>
<g fill="#000">
<rect x="220" y="20" width="1733" height="6"/>
<rect x="220" y="1403" width="1733" height="5"/>
<rect x="231" y="20" width="5" height="1388"/>
<rect x="1948" y="20" width="5" height="1413"/>
<rect x="206" y="1340" width="26" height="5"/>
<rect x="220" y="1277" width="12" height="5.5"/>
<rect x="206" y="1214" width="26" height="5"/>
<rect x="220" y="1152" width="12" height="5.5"/>
<rect x="206" y="1089" width="26" height="5"/>
<rect x="220" y="1026" width="12" height="5.5"/>
<rect x="206" y="963" width="26" height="5"/>
<rect x="220" y="900" width="12" height="5.5"/>
<rect x="206" y="838" width="26" height="5"/>
<rect x="220" y="775" width="12" height="5.5"/>
<rect x="206" y="712" width="26" height="5"/>
<rect x="220" y="649" width="12" height="5.5"/>
<rect x="206" y="586" width="26" height="5"/>
<rect x="220" y="524" width="12" height="5.5"/>
<rect x="206" y="461" width="26" height="5"/>
<rect x="220" y="398" width="12" height="5.5"/>
<rect x="206" y="335" width="26" height="5"/>
<rect x="220" y="272" width="12" height="5.5"/>
<rect x="206" y="210" width="26" height="5"/>
<rect x="220" y="147" width="12" height="5.5"/>
<rect x="206" y="84" width="26" height="5"/>
<rect x="265" y="1407" width="5" height="26"/>
<rect x="433" y="1407" width="5" height="12"/>
<rect x="602" y="1407" width="5" height="26"/>
<rect x="770" y="1407" width="5" height="12"/>
<rect x="938" y="1407" width="5" height="26"/>
<rect x="1106" y="1407" width="5" height="12"/>
<rect x="1275" y="1407" width="5" height="26"/>
<rect x="1443" y="1407" width="5" height="12"/>
<rect x="1611" y="1407" width="5" height="26"/>
<rect x="1780" y="1407" width="5" height="12"/>
<rect x="1948" y="1407" width="5" height="26"/>
</g>
<g>
<text x="187.6" y="1359.1" text-anchor="end">0.0</text>
<text x="187.6" y="1233.5" text-anchor="end">0.2</text>
<text x="187.6" y="1107.9" text-anchor="end">0.4</text>
<text x="187.6" y="982.3" text-anchor="end">0.6</text>
<text x="187.6" y="856.7" text-anchor="end">0.8</text>
<text x="187.6" y="731.1" text-anchor="end">1.0</text>
<text x="187.6" y="605.5" text-anchor="end">1.2</text>
<text x="187.6" y="479.9" text-anchor="end">1.4</text>
<text x="187.6" y="354.3" text-anchor="end">1.6</text>
<text x="187.6" y="228.7" text-anchor="end">1.8</text>
<text x="187.6" y="103.1" text-anchor="end">2.0</text>
<text class="xl" x="266.7" y="1498" text-anchor="middle">0</text>
<text class="xl" x="603.3" y="1498" text-anchor="middle">2000</text>
<text class="xl" x="939.9" y="1498" text-anchor="middle">4000</text>
<text class="xl" x="1276.5" y="1498" text-anchor="middle">6000</text>
<text class="xl" x="1613.1" y="1498" text-anchor="middle">8000</text>
<text class="xl" x="1949.7" y="1498" text-anchor="middle">10000</text>
</g>
<text class="ttl" x="1109" y="1588.7" text-anchor="middle">Time (sec)</text>
<text class="ytl" transform="translate(76 667.2) rotate(-90) scale(1 1.02)" text-anchor="middle">Hydrogen Absorption (wt.%)</text>
<g>
<rect x="1149.4" y="415.1" width="437.4" height="451.6" fill="#fff" stroke="#000" stroke-width="2.6"/>
<g fill="#505050" stroke="none">
<rect x="1158" y="462.8" width="163" height="2.8"/>
<rect x="1224.1" y="449.3" width="29.8" height="29.8"/>
</g>
<text class="big" x="1339.5" y="487.8">x=&#160;0</text>
<g fill="#fc3c40" stroke="none">
<rect x="1158" y="551.2" width="163" height="2.8"/>
<circle cx="1239" cy="552.6" r="16.4"/>
</g>
<text class="big" x="1339.5" y="576.2">x=&#160;0.25</text>
<g fill="#0066dd" stroke="none">
<rect x="1158" y="639.6" width="163" height="2.8"/>
<path d="M1239 617.5L1259 652.8L1219 652.8Z"/>
</g>
<text class="big" x="1339.5" y="664.6">x=&#160;0.5</text>
<g fill="#00aa66" stroke="none">
<rect x="1158" y="727.8" width="163" height="2.8"/>
<path d="M1219 717.4L1259 717.4L1239 752.7Z"/>
</g>
<text class="big" x="1339.5" y="752.8">x=&#160;0.75</text>
<g fill="#c873e0" stroke="none">
<rect x="1158" y="816.2" width="163" height="2.8"/>
<path d="M1239 796.6L1260 817.6L1239 838.6L1218 817.6Z"/>
</g>
<text class="big" x="1339.5" y="841.2">x=&#160;1</text>
</g>
<g fill="#fff"><rect x="108.28" y="724.99" width="11.84" height="7.81"/><rect x="125.93" y="724.99" width="11.18" height="7.81"/><rect x="108.28" y="599.39" width="11.84" height="7.81"/><rect x="125.93" y="599.39" width="11.18" height="7.81"/><rect x="108.28" y="473.79" width="11.84" height="7.81"/><rect x="125.93" y="473.79" width="11.18" height="7.81"/><rect x="108.28" y="348.19" width="11.84" height="7.81"/><rect x="125.93" y="348.19" width="11.18" height="7.81"/><rect x="108.28" y="222.59" width="11.84" height="7.81"/><rect x="125.93" y="222.59" width="11.18" height="7.81"/><rect x="1871.48" y="1491.89" width="11.84" height="7.81"/><rect x="1889.14" y="1491.89" width="11.18" height="7.81"/><rect x="1441.23" y="834.12" width="14.12" height="8.78"/><rect x="1462.32" y="834.12" width="13.36" height="8.78"/></g>
</svg>
</body>
</html>
